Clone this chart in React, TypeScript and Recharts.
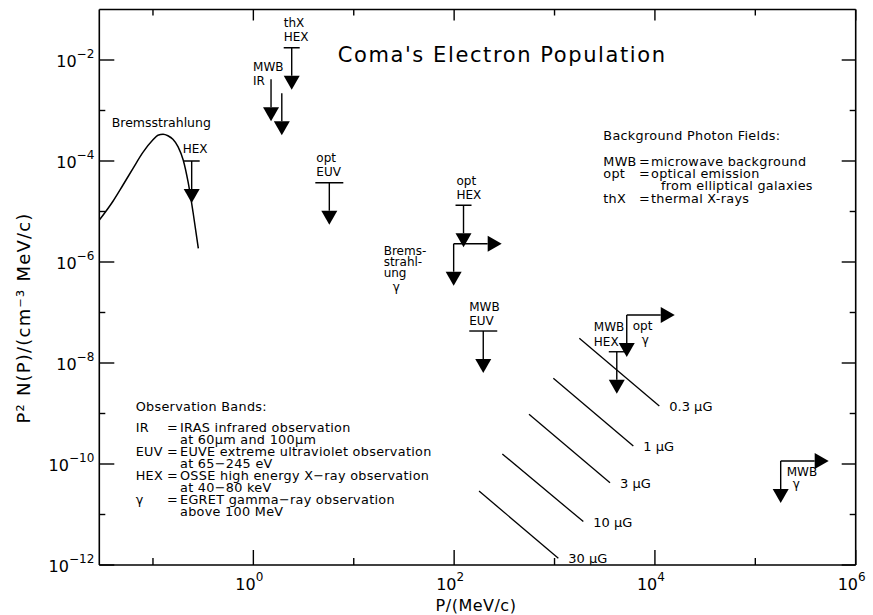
import React from 'react';
import { ComposedChart, XAxis, YAxis, Line, Scatter, ReferenceLine, ReferenceDot } from 'recharts';

const FONT = '"DejaVu Sans", "Liberation Sans", sans-serif';

// decade ticks
const pTicks = [0.1, 1, 10, 100, 1e3, 1e4, 1e5, 1e6];
const nTicks = [1e-12, 1e-11, 1e-10, 1e-9, 1e-8, 1e-7, 1e-6, 1e-5, 1e-4, 1e-3, 1e-2];

// thermal (Bremsstrahlung) population
const bremsP = [0.0292, 0.0398, 0.0501, 0.0631, 0.0794, 0.1, 0.112, 0.126, 0.141, 0.158, 0.178, 0.2, 0.224, 0.251, 0.283];
const bremsN = [6.76e-6, 1.58e-5, 3.31e-5, 7.08e-5, 1.48e-4, 2.63e-4, 3.24e-4, 3.39e-4, 3.16e-4, 2.69e-4, 1.91e-4, 1.05e-4, 3.8e-5, 9.55e-6, 1.86e-6];

// upper limits (bar + downward arrow)
const limitId = ['HEX', 'MWB IR 60', 'MWB IR 100', 'thX HEX', 'opt EUV', 'opt HEX', 'MWB EUV', 'MWB HEX'];
const limitP = [0.243, 1.5, 1.92, 2.41, 5.71, 124, 195, 4170];
const limitN = [1.0e-4, 4.15e-3, 2.2e-3, 1.75e-2, 3.7e-5, 1.33e-5, 4.3e-8, 1.67e-8];

// gamma-ray limits (down arrow + right arrow from the corner)
const cornerId = ['Brems γ', 'opt γ', 'MWB γ'];
const cornerP = [98.9, 5240, 1.79e5];
const cornerN = [2.3e-6, 8.9e-8, 1.15e-10];

// magnetic field lines
const fieldLabel = ['0.3 μG', '1 μG', '3 μG', '10 μG', '30 μG'];
const fieldP0 = [1766, 973, 557, 302, 177];
const fieldN0 = [3.08e-8, 4.98e-9, 9.64e-10, 1.58e-10, 2.92e-11];
const fieldP1 = [11060, 6095, 3570, 1936, 1091];
const fieldN1 = [1.41e-9, 2.27e-10, 4.27e-11, 7.24e-12, 1.36e-12];

const bremsData = bremsP.map((p, i) => ({ p, n: bremsN[i] }));
const limitData = limitId.map((id, i) => ({ id, p: limitP[i], n: limitN[i] }));
const cornerData = cornerId.map((id, i) => ({ id, p: cornerP[i], n: cornerN[i] }));
const fieldData = fieldLabel.map((label, i) => [
  { label, p: fieldP0[i], n: fieldN0[i] },
  { label, p: fieldP1[i], n: fieldN1[i] },
]);

// label placement next to each mark (pixels)
const markLabels: Record<string, { lines: string[]; dx: number[]; dy: number[] }> = {
  'HEX': { lines: ['HEX'], dx: [-9], dy: [-8] },
  'MWB IR 60': { lines: ['MWB', 'IR'], dx: [-18, -18], dy: [-8, 6] },
  'thX HEX': { lines: ['thX', 'HEX'], dx: [-8, -8], dy: [-21, -7] },
  'opt EUV': { lines: ['opt', 'EUV'], dx: [-13, -13], dy: [-21, -7] },
  'opt HEX': { lines: ['opt', 'HEX'], dx: [-7, -7], dy: [-20, -6] },
  'MWB EUV': { lines: ['MWB', 'EUV'], dx: [-14, -14], dy: [-20, -6] },
  'MWB HEX': { lines: ['MWB', 'HEX'], dx: [-23, -23], dy: [-21, -6] },
  'Brems γ': { lines: ['Brems-', 'strahl-', 'ung', 'γ'], dx: [-70, -70, -70, -61], dy: [11, 22, 33, 47] },
  'opt γ': { lines: ['opt', 'γ'], dx: [6, 15], dy: [15, 29] },
  'MWB γ': { lines: ['MWB', 'γ'], dx: [6, 12], dy: [15, 27] },
};

const DOWN = 42;
const RIGHT = 48;
const HEAD = 14;
const HALF = 8;
const SW = 1.4;

const MarkLabel = ({ id, cx, cy }: { id: string; cx: number; cy: number }) => {
  const spec = markLabels[id];
  if (!spec) return null;
  return (
    <>
      {spec.lines.map((t, i) => (
        <text key={i} x={cx + spec.dx[i]} y={cy + spec.dy[i]} fontSize={12} fontFamily={FONT} fill="#000">
          {t}
        </text>
      ))}
    </>
  );
};

const DownArrow = ({ cx, cy }: { cx: number; cy: number }) => (
  <>
    <line x1={cx} x2={cx} y1={cy} y2={cy + DOWN - HEAD} stroke="#000" strokeWidth={SW} />
    <polygon points={`${cx - HALF},${cy + DOWN - HEAD} ${cx + HALF},${cy + DOWN - HEAD} ${cx},${cy + DOWN}`} fill="#000" />
  </>
);

const LimitShape = (props: any) => {
  const { cx, cy } = props;
  const id: string = props.payload?.id ?? props.id;
  const half = id.endsWith('EUV') ? 14 : 8;
  const hasBar = !id.startsWith('MWB IR');
  return (
    <g>
      {hasBar && <line x1={cx - half} x2={cx + half} y1={cy} y2={cy} stroke="#000" strokeWidth={SW} />}
      <DownArrow cx={cx} cy={cy} />
      <MarkLabel id={id} cx={cx} cy={cy} />
    </g>
  );
};

const CornerShape = (props: any) => {
  const { cx, cy } = props;
  const id: string = props.payload?.id ?? props.id;
  return (
    <g>
      <DownArrow cx={cx} cy={cy} />
      <line x1={cx} x2={cx + RIGHT - HEAD} y1={cy} y2={cy} stroke="#000" strokeWidth={SW} />
      <polygon points={`${cx + RIGHT - HEAD},${cy - HALF} ${cx + RIGHT - HEAD},${cy + HALF} ${cx + RIGHT},${cy}`} fill="#000" />
      <MarkLabel id={id} cx={cx} cy={cy} />
    </g>
  );
};

const expOf = (v: number) => Math.round(Math.log10(v));
const sup = (e: number) => (e < 0 ? '−' + Math.abs(e) : String(e));
const isMajor = (v: number) => expOf(v) % 2 === 0;

const BottomTick = ({ x, y, payload }: any) => {
  const e = expOf(payload.value);
  const major = e % 2 === 0;
  return (
    <g>
      <line x1={x} x2={x} y1={y} y2={y - (major ? 15 : 7)} stroke="#000" strokeWidth={SW} />
      {major && (
        <text x={x - 4} y={y + 25} textAnchor="middle" fontSize={16} fontFamily={FONT} fill="#000">
          10<tspan dy={-9} fontSize={12}>{sup(e)}</tspan>
        </text>
      )}
    </g>
  );
};

const LeftTick = ({ x, y, payload }: any) => {
  const e = expOf(payload.value);
  const major = e % 2 === 0;
  return (
    <g>
      <line x1={x} x2={x + (major ? 15 : 6)} y1={y} y2={y} stroke="#000" strokeWidth={SW} />
      {major && (
        <text x={x - 5} y={y + 7} textAnchor="end" fontSize={16} fontFamily={FONT} fill="#000">
          10<tspan dy={-9} fontSize={12}>{sup(e)}</tspan>
        </text>
      )}
    </g>
  );
};

// inward tick marks on the top and right frame edges
const topTickShape = (major: boolean) => (p: any) => (
  <line x1={p.cx} x2={p.cx} y1={p.cy} y2={p.cy + (major ? 11 : 6)} stroke="#000" strokeWidth={SW} />
);
const rightTickShape = (major: boolean) => (p: any) => (
  <line x1={p.cx} x2={p.cx - (major ? 14 : 6)} y1={p.cy} y2={p.cy} stroke="#000" strokeWidth={SW} />
);

const FieldEnd = (props: any) => {
  const { cx, cy, index, payload } = props;
  if (index !== 1) return <g key={`fe-${index}`} />;
  return (
    <text key={`fe-${index}`} x={cx + 10} y={cy + 5} fontSize={13} fontFamily={FONT} fill="#000">
      {payload.label}
    </text>
  );
};

const axisLine = { stroke: '#000', strokeWidth: 1.6 };
const pDomain = [0.0292, 1e6];
const nDomain = [1e-12, 1e-1];
const pMax = pDomain[1];
const nMax = nDomain[1];

const txt = { fontFamily: FONT, fill: '#000' };

export default function App() {
  return (
    <div style={{ position: 'absolute', left: 0, top: 0, width: 873, height: 615, background: '#fff' }}>
      <ComposedChart width={873} height={615} margin={{ top: 9.5, right: 17.3, bottom: 20, left: 0 }}>
        <XAxis dataKey="p" type="number" scale="log" domain={pDomain} allowDataOverflow ticks={pTicks} interval={0}
          tickSize={0} tickMargin={0} height={30} axisLine={axisLine} tickLine={false} tick={<BottomTick />} />
        <YAxis dataKey="n" type="number" scale="log" domain={nDomain} allowDataOverflow ticks={nTicks} interval={0}
          tickSize={0} tickMargin={0} width={99.3} axisLine={axisLine} tickLine={false} tick={<LeftTick />} />

        <ReferenceLine y={nMax} stroke="#000" strokeWidth={1.6} />
        <ReferenceLine x={pMax} stroke="#000" strokeWidth={1.6} />
        {pTicks.map((t) => (
          <ReferenceDot key={`t${t}`} x={t} y={nMax} r={0} shape={topTickShape(isMajor(t))} />
        ))}
        {nTicks.map((t) => (
          <ReferenceDot key={`r${t}`} x={pMax} y={t} r={0} shape={rightTickShape(isMajor(t))} />
        ))}

        <Line data={bremsData} dataKey="n" type="monotone" stroke="#000" strokeWidth={1.5} dot={false} isAnimationActive={false} />
        {fieldData.map((d, i) => (
          <Line key={i} data={d} dataKey="n" type="linear" stroke="#000" strokeWidth={1.3} dot={FieldEnd} isAnimationActive={false} />
        ))}
        <Scatter data={limitData} shape={LimitShape} isAnimationActive={false} />
        <Scatter data={cornerData} shape={CornerShape} isAnimationActive={false} />
      </ComposedChart>

      <svg width={873} height={615} style={{ position: 'absolute', left: 0, top: 0, pointerEvents: 'none' }}>
        <text x={337.7} y={61.7} fontSize={21} letterSpacing={1.6} {...txt}>Coma's Electron Population</text>
        <text x={111.7} y={127} fontSize={12.5} {...txt}>Bremsstrahlung</text>

        <text x={476} y={611} fontSize={16} textAnchor="middle" letterSpacing={0.5} {...txt}>P/(MeV/c)</text>
        <text transform="translate(30,318) rotate(-90)" fontSize={18} textAnchor="middle" letterSpacing={1.2} {...txt}>
          P² N(P)/(cm⁻³ MeV/c)
        </text>

        <g fontSize={12.8} letterSpacing={0.3} {...txt}>
          <text x={603.3} y={139.5}>Background Photon Fields:</text>
          <text x={603.3} y={165.5}>MWB</text>
          <text x={639} y={165.5}>=</text>
          <text x={651} y={165.5}>microwave background</text>
          <text x={603.3} y={177.5}>opt</text>
          <text x={639} y={177.5}>=</text>
          <text x={651} y={177.5}>optical emission</text>
          <text x={661} y={190}>from elliptical galaxies</text>
          <text x={603.3} y={202.5}>thX</text>
          <text x={639} y={202.5}>=</text>
          <text x={651} y={202.5}>thermal X-rays</text>
        </g>

        <g fontSize={12.8} letterSpacing={0.3} {...txt}>
          <text x={135.7} y={411}>Observation Bands:</text>
          <text x={135.7} y={432}>IR</text>
          <text x={167} y={432}>=</text>
          <text x={180} y={432}>IRAS infrared observation</text>
          <text x={180} y={444}>at 60μm and 100μm</text>
          <text x={135.7} y={456}>EUV</text>
          <text x={167} y={456}>=</text>
          <text x={180} y={456}>EUVE extreme ultraviolet observation</text>
          <text x={180} y={468}>at 65−245 eV</text>
          <text x={135.7} y={480}>HEX</text>
          <text x={167} y={480}>=</text>
          <text x={180} y={480}>OSSE high energy X−ray observation</text>
          <text x={180} y={492}>at 40−80 keV</text>
          <text x={135.7} y={504}>γ</text>
          <text x={167} y={504}>=</text>
          <text x={180} y={504}>EGRET gamma−ray observation</text>
          <text x={180} y={516}>above 100 MeV</text>
        </g>
      </svg>
    </div>
  );
}
